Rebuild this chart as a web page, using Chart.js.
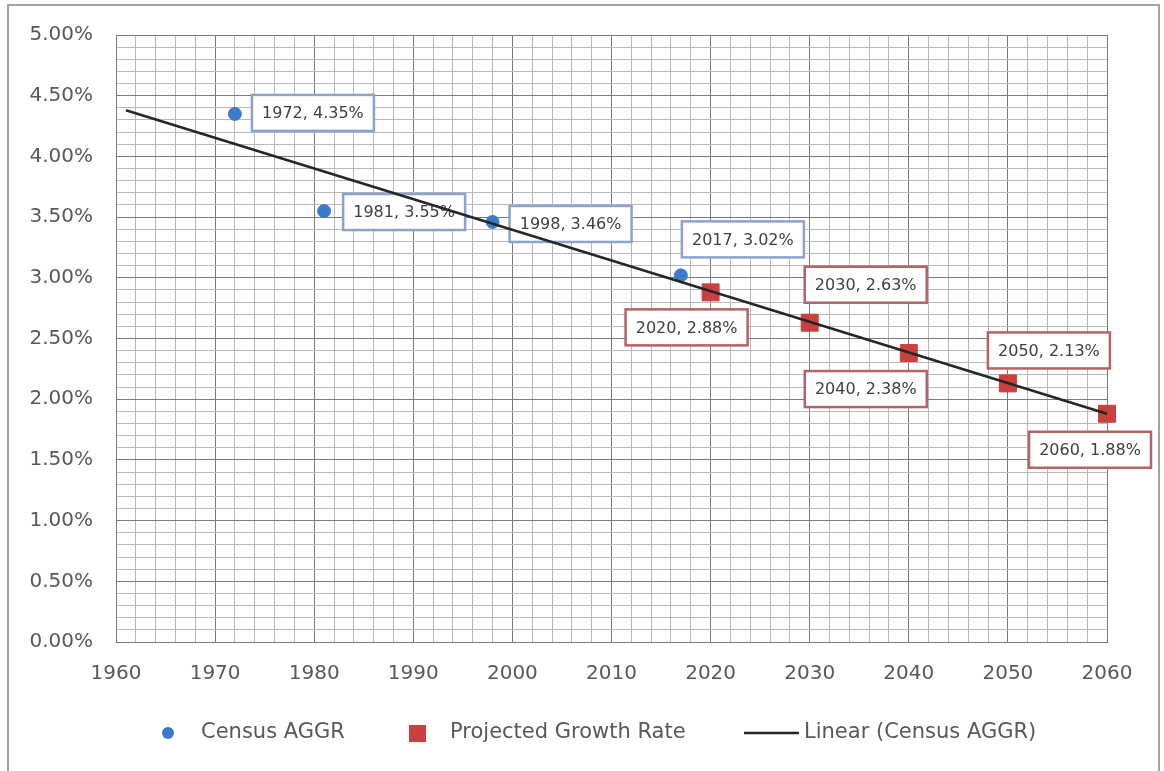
<!DOCTYPE html>
<html>
<head>
<meta charset="utf-8">
<title>Census AGGR and Projected Growth Rate</title>
<script src="https://cdn.jsdelivr.net/npm/chart.js@4.4.1/dist/chart.umd.min.js"></script>
<style>
  html, body { margin: 0; padding: 0; background: #fff; }
  #wrap { width: 1164px; height: 771px; }
</style>
</head>
<body>
<div id="wrap"><canvas id="growthChart" width="1164" height="771"></canvas></div>
<script>
// Data
const censusYears = [1972, 1981, 1998, 2017];
const censusRates = [4.35, 3.55, 3.46, 3.02];
const projectedYears = [2020, 2030, 2040, 2050, 2060];
const projectedRates = [2.88, 2.63, 2.38, 2.13, 1.88];
const trendYears = [1961, 2060];
const trendRates = [4.38, 1.88];
const xTickLabels = [1960, 1970, 1980, 1990, 2000, 2010, 2020, 2030, 2040, 2050, 2060];
const yTickLabels = [0, 0.5, 1, 1.5, 2, 2.5, 3, 3.5, 4, 4.5, 5];

// Data label boxes, offset from their point (px)
const censusLabelOffsets = [[78, -1], [80, 1], [78, 2], [62, -36]];
const projectedLabelOffsets = [[-24, 35], [56, -38], [-43, 36], [41, -33], [-17, 36]];

const FONT = "'DejaVu Sans', sans-serif";
const BLUE = "#3c7bcb";
const RED = "#c9403f";
const TREND = "#262626";
const MAJOR_GRID = "#7a7a7a";
const MINOR_GRID = "#b9b9b9";

function toPoints(xs, ys) {
  return xs.map((x, i) => ({ x: x, y: ys[i] }));
}

function isMajorY(v) {
  return yTickLabels.some((t) => Math.abs(t - v) < 1e-6);
}

// Grey frame round the whole chart
const framePlugin = {
  id: "frame",
  beforeDraw(chart) {
    const ctx = chart.ctx;
    ctx.save();
    ctx.strokeStyle = "#a3a3a3";
    ctx.lineWidth = 2;
    ctx.strokeRect(8, 5, 1151, 780);
    ctx.restore();
  },
};

// Boxed data labels, "year, rate%"
const dataLabelPlugin = {
  id: "dataLabels",
  beforeDatasetsDraw(chart) {
    const ctx = chart.ctx;
    const groups = [
      { index: 1, offsets: censusLabelOffsets, border: "#8ea2cc" },
      { index: 2, offsets: projectedLabelOffsets, border: "#b46262" },
    ];
    ctx.save();
    ctx.font = "16px " + FONT;
    ctx.textAlign = "center";
    ctx.textBaseline = "middle";
    groups.forEach((g) => {
      const meta = chart.getDatasetMeta(g.index);
      const raw = chart.data.datasets[g.index].data;
      meta.data.forEach((pt, i) => {
        const cx = pt.x + g.offsets[i][0];
        const cy = pt.y + g.offsets[i][1];
        const w = 122, h = 36;
        ctx.fillStyle = "#ffffff";
        ctx.fillRect(cx - w / 2, cy - h / 2, w, h);
        ctx.strokeStyle = g.border;
        ctx.lineWidth = 2.5;
        ctx.strokeRect(cx - w / 2, cy - h / 2, w, h);
        ctx.fillStyle = "#404040";
        ctx.fillText(raw[i].x + ", " + raw[i].y.toFixed(2) + "%", cx, cy + 1);
      });
    });
    ctx.restore();
  },
};

// Legend row under the axis
const legendPlugin = {
  id: "customLegend",
  afterDraw(chart) {
    const ctx = chart.ctx;
    const y = 733;
    ctx.save();
    ctx.font = "21px " + FONT;
    ctx.textBaseline = "middle";

    ctx.beginPath();
    ctx.arc(168, y, 6, 0, Math.PI * 2);
    ctx.fillStyle = BLUE;
    ctx.fill();
    ctx.fillStyle = "#595959";
    ctx.fillText(chart.data.datasets[1].label, 201, y);

    ctx.fillStyle = RED;
    ctx.fillRect(409, y - 8, 17, 17);
    ctx.fillStyle = "#595959";
    ctx.fillText(chart.data.datasets[2].label, 450, y);

    ctx.strokeStyle = TREND;
    ctx.lineWidth = 2.5;
    ctx.beginPath();
    ctx.moveTo(744, y);
    ctx.lineTo(799, y);
    ctx.stroke();
    ctx.fillText(chart.data.datasets[0].label, 804, y);
    ctx.restore();
  },
};

const ctx = document.getElementById("growthChart").getContext("2d");
const growthChart = new Chart(ctx, {
  type: "scatter",
  data: {
    datasets: [
      {
        label: "Linear (Census AGGR)",
        type: "line",
        data: toPoints(trendYears, trendRates),
        borderColor: TREND,
        borderWidth: 2.5,
        pointRadius: 0,
        fill: false,
        tension: 0,
        clip: false,
      },
      {
        label: "Census AGGR",
        data: toPoints(censusYears, censusRates),
        pointStyle: "circle",
        pointRadius: 6.5,
        backgroundColor: BLUE,
        borderColor: BLUE,
        borderWidth: 1,
        clip: false,
      },
      {
        label: "Projected Growth Rate",
        data: toPoints(projectedYears, projectedRates),
        pointStyle: "rect",
        pointRadius: 12,
        backgroundColor: RED,
        borderColor: RED,
        borderWidth: 1,
        clip: false,
      },
    ],
  },
  options: {
    responsive: false,
    animation: false,
    layout: {
      padding: { top: 31, right: 57, bottom: 69, left: 0 },
    },
    plugins: {
      legend: { display: false },
      tooltip: { enabled: false },
    },
    scales: {
      x: {
        type: "linear",
        min: 1960,
        max: 2060,
        afterFit: (scale) => { scale.height = 60; },
        ticks: {
          stepSize: 2,
          autoSkip: false,
          maxRotation: 0,
          padding: 20,
          color: "#595959",
          font: { family: FONT, size: 20 },
          callback: (v) => (xTickLabels.includes(v) ? String(v) : ""),
        },
        grid: {
          drawTicks: false,
          color: (c) => (c.tick && c.tick.value % 10 === 0 ? MAJOR_GRID : MINOR_GRID),
        },
        border: { color: MAJOR_GRID },
      },
      y: {
        min: 0,
        max: 5,
        afterFit: (scale) => { scale.width = 116; },
        ticks: {
          stepSize: 0.1,
          autoSkip: false,
          padding: 23,
          color: "#595959",
          font: { family: FONT, size: 20 },
          callback: (v) => (isMajorY(v) ? v.toFixed(2) + "%" : ""),
        },
        grid: {
          drawTicks: false,
          color: (c) => (c.tick && isMajorY(c.tick.value) ? MAJOR_GRID : MINOR_GRID),
        },
        border: { color: MAJOR_GRID },
      },
    },
  },
  plugins: [framePlugin, dataLabelPlugin, legendPlugin],
});
</script>
</body>
</html>
